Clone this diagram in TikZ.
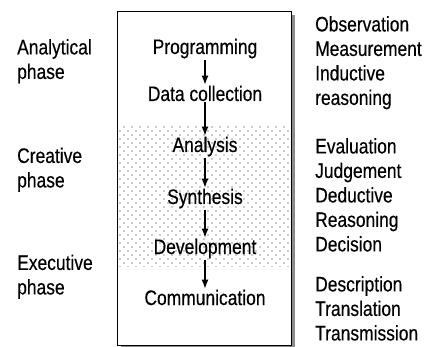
\documentclass[tikz,border=0pt]{standalone}
\usepackage{fontspec}
\setmainfont{Liberation Sans}[FakeStretch=0.83,FakeBold=0.35]
\usetikzlibrary{arrows.meta,patterns}

% staggered grey dot screen
\pgfdeclarepatternformonly{stagdots}{\pgfqpoint{-1pt}{-1pt}}{\pgfqpoint{7pt}{7pt}}{\pgfqpoint{8pt}{8pt}}{%
  \pgfpathcircle{\pgfqpoint{0pt}{0pt}}{0.8pt}%
  \pgfpathcircle{\pgfqpoint{4pt}{4pt}}{0.8pt}%
  \pgfusepath{fill}}

\begin{document}
\begin{tikzpicture}[x=1pt,y=-1pt,
  every node/.style={font=\fontsize{21}{24.5}\selectfont},
  stage/.style={anchor=base, inner sep=1pt},
  side/.style={anchor=north west, inner sep=0pt, align=left},
  flow/.style={-{Latex[length=9pt,width=7pt]}, line width=1.2pt}]
\useasboundingbox (0,0) rectangle (433,347);

% framed panel with drop shadow and shaded creative band
\fill[black!45] (121,15) rectangle (295,347);
\fill[white] (117.5,11.5) rectangle (291.5,345.5);
\fill[pattern=stagdots, pattern color=black!40] (117.5,124) rectangle (291.5,266);
\draw[line width=1.3pt] (117.5,11.5) rectangle (291.5,345.5);

% process steps
\node[stage] (prog) at (205,54)  {Programming};
\node[stage] (data) at (205,101) {Data collection};
\node[stage] (anal) at (205,152) {Analysis};
\node[stage] (synt) at (205,204) {Synthesis};
\node[stage] (devl) at (205,254) {Development};
\node[stage] (comm) at (205,305) {Communication};

\draw[flow] (prog) -- (data);
\draw[flow] (data) -- (anal);
\draw[flow] (anal) -- (synt);
\draw[flow] (synt) -- (devl);
\draw[flow] (devl) -- (comm);

% phase names
\node[side] (ph1) at (17,39)  {Analytical\\phase};
\node[side] (ph2) at (17,147.5) {Creative\\phase};
\node[side] (ph3) at (17,254.5) {Executive\\phase};

% activities of each phase
\node[side] (act1) at (315,16)  {Observation\\Measurement\\Inductive\\reasoning};
\node[side] (act2) at (315,138) {Evaluation\\Judgement\\Deductive\\Reasoning\\Decision};
\node[side] (act3) at (315,276) {Description\\Translation\\Transmission};
\end{tikzpicture}
\end{document}
